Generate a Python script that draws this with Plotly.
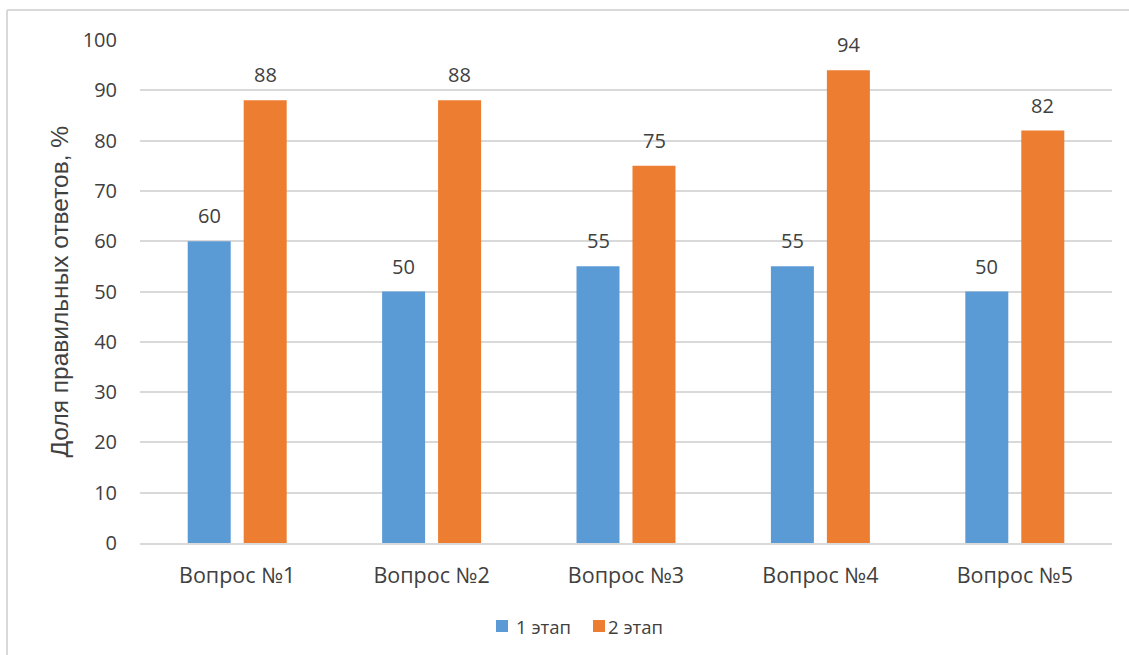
import plotly.graph_objects as go

categories = ["Вопрос №1", "Вопрос №2", "Вопрос №3", "Вопрос №4", "Вопрос №5"]
stage1 = [60, 50, 55, 55, 50]
stage2 = [88, 88, 75, 94, 82]
series_names = ["1 этап", "2 этап"]
y_ticks = [0, 10, 20, 30, 40, 50, 60, 70, 80, 90, 100]

BLUE = "#5B9BD5"
ORANGE = "#ED7D31"
TEXT = "#404040"
GRID = "#D9D9D9"
FONT = "Open Sans"

L, R, T, B = 140, 17, 40, 112
W, H = 1129, 655
pw, ph = W - L - R, H - T - B


def px(x):
    return (x - L) / pw


def py(y):
    return (H - B - y) / ph


fig = go.Figure()
fig.add_trace(go.Bar(x=categories, y=stage1, name=series_names[0], marker_color=BLUE,
                     marker_line_width=0))
fig.add_trace(go.Bar(x=categories, y=stage2, name=series_names[1], marker_color=ORANGE,
                     marker_line_width=0))

annotations = []
for vals, shift in ((stage1, -28), (stage2, 28)):
    for cat, v in zip(categories, vals):
        annotations.append(dict(x=cat, y=v, xref="x", yref="y", text=str(v), showarrow=False,
                                xshift=shift, yshift=10, yanchor="bottom",
                                font=dict(family=FONT, size=20, color=TEXT)))
annotations.append(dict(x=px(59), y=0.5, xref="paper", yref="paper",
                        text="Доля правильных ответов, %", textangle=-90, showarrow=False,
                        xanchor="center", yanchor="middle",
                        font=dict(family="Liberation Sans", size=24.5, color=TEXT)))

# legend (manual, to match reference spacing)
legend_items = [(series_names[0], BLUE, 496, 514), (series_names[1], ORANGE, 593, 606)]
shapes = []
for name, col, sx, tx in legend_items:
    shapes.append(dict(type="rect", xref="paper", yref="paper",
                       x0=px(sx), x1=px(sx + 12), y0=py(620), y1=py(632),
                       fillcolor=col, line=dict(width=0)))
    annotations.append(dict(x=px(tx), y=py(626), xref="paper", yref="paper", text=name,
                            showarrow=False, xanchor="left", yanchor="middle",
                            font=dict(family=FONT, size=18.5, color=TEXT)))

shapes += [
    dict(type="line", xref="paper", yref="paper",
         x0=px(7), x1=px(W + 5), y0=py(10), y1=py(10),
         line=dict(color=GRID, width=2)),
    dict(type="line", xref="paper", yref="paper",
         x0=px(7), x1=px(7), y0=py(10), y1=py(H + 5),
         line=dict(color=GRID, width=2)),
]

fig.update_layout(
    width=W, height=H,
    margin=dict(l=L, r=R, t=T, b=B),
    paper_bgcolor="white", plot_bgcolor="white",
    barmode="group", bargap=0.424, bargroupgap=0.232,
    font=dict(family=FONT, color=TEXT),
    showlegend=False,
    annotations=annotations,
    shapes=shapes,
    xaxis=dict(showgrid=False, showline=True, linecolor=GRID, linewidth=2,
               tickfont=dict(family=FONT, size=21.5, color=TEXT), ticks="",
               ticklabelstandoff=12, zeroline=False),
    yaxis=dict(range=[0, 100], tickvals=y_ticks, showgrid=True, gridcolor=GRID, gridwidth=2,
               showline=False, zeroline=False,
               tickfont=dict(family=FONT, size=20, color=TEXT), ticks="",
               ticklabelstandoff=22),
)

fig.write_html("out.html")
